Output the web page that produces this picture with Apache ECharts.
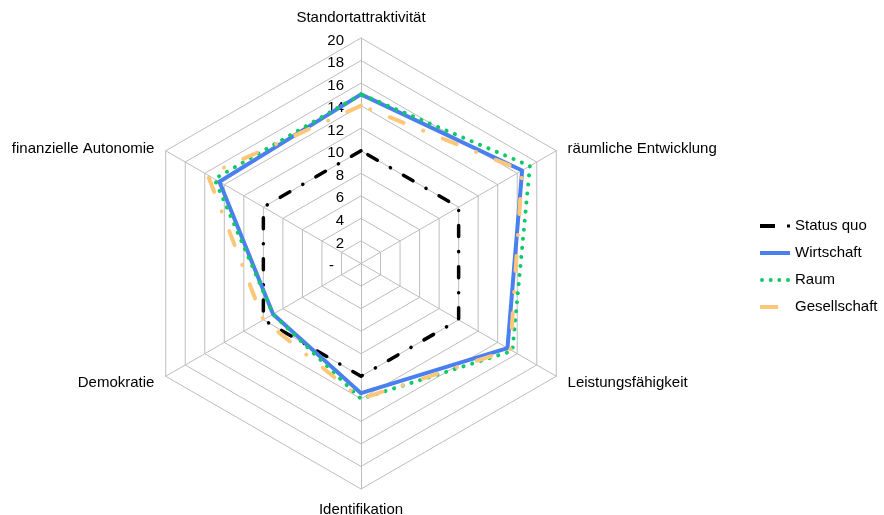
<!DOCTYPE html>
<html>
<head>
<meta charset="utf-8">
<script src="https://cdn.jsdelivr.net/npm/echarts@6/dist/echarts.min.js"></script>
<style>
  html, body { margin: 0; padding: 0; background: #fff; }
  #chart { width: 884px; height: 515px; }
</style>
</head>
<body>
<div id="chart"></div>
<script>
// Dimensions, in the counter-clockwise order the radar lays them out (top first)
const indicators = ['Standortattraktivität', 'finanzielle Autonomie', 'Demokratie', 'Identifikation', 'Leistungsfähigkeit', 'räumliche Entwicklung'];
const seriesNames = ['Status quo', 'Wirtschaft', 'Raum', 'Gesellschaft'];
const statusQuo   = [10, 10, 10, 10, 10, 10];
const wirtschaft  = [15, 14.5, 9, 11.5, 15, 16.5];
const raum        = [15, 15, 9, 12, 15.5, 17.3];
const gesellschaft = [14, 15.7, 10, 12, 15.3, 16.5];
const axisMax = 20;
const axisSplits = 10;

const FONT = '"Liberation Sans", Arial, sans-serif';
const colors = ['#000000', '#4a7ff0', '#0fc86a', '#fdc77a'];
const lineStyles = [
  { width: 3.5, type: [11, 15, 0.1, 15], cap: 'round' },
  { width: 4, type: 'solid', cap: 'round' },
  { width: 4, type: [0.1, 9], cap: 'round' },
  { width: 4, type: [15, 21, 0.1, 21], cap: 'round' }
];
const legendIcons = [
  'path://M0,0h15v4h-15z M27,0.5h3v3h-3z',
  'path://M0,0h30v4h-30z',
  'path://M0,2a2,2 0 1,0 4,0a2,2 0 1,0 -4,0z M8.7,2a2,2 0 1,0 4,0a2,2 0 1,0 -4,0z M17.3,2a2,2 0 1,0 4,0a2,2 0 1,0 -4,0z M26,2a2,2 0 1,0 4,0a2,2 0 1,0 -4,0z',
  'path://M0,0h18v4h-18z M30,0L30,4'
];
const values = [statusQuo, wirtschaft, raum, gesellschaft];

// the two upper diagonal names sit a little lower than the default placement
const loweredNames = ['finanzielle Autonomie', 'räumliche Entwicklung'];

const chart = echarts.init(document.getElementById('chart'), null, { renderer: 'canvas' });

chart.setOption({
  backgroundColor: '#ffffff',
  animation: false,
  legend: {
    orient: 'vertical',
    left: 760,
    top: 218.5,
    padding: 0,
    itemWidth: 30,
    itemHeight: 4,
    itemGap: 12,
    itemTextGap: 11,
    itemStyle: { borderWidth: 0 },
    textStyle: { color: '#000', fontSize: 15, fontFamily: FONT },
    data: seriesNames.map((n, i) => ({ name: n, icon: legendIcons[i], itemStyle: { color: colors[i] } }))
  },
  radar: {
    center: [361, 263.5],
    radius: 225.5,
    startAngle: 90,
    shape: 'polygon',
    splitNumber: axisSplits,
    nameGap: 13,
    axisName: {
      color: '#000',
      fontSize: 15,
      fontFamily: FONT,
      formatter: name => (loweredNames.indexOf(name) >= 0 ? '{low|' + name + '}' : name),
      rich: { low: { color: '#000', fontSize: 15, fontFamily: FONT, padding: [10, 0, 0, 0] } }
    },
    splitArea: { show: false },
    splitLine: { lineStyle: { color: '#bdbdbd', width: 1 } },
    axisLine: { lineStyle: { color: '#bdbdbd', width: 1 } },
    axisTick: { show: false },
    axisLabel: {
      show: false,
      color: '#000',
      fontSize: 15,
      fontFamily: FONT,
      margin: 17,
      align: 'right',
      padding: [5, 0, 0, 0],
      formatter: v => (v === 0 ? '{z|-}' : String(v)),
      rich: { z: { color: '#000', fontSize: 15, fontFamily: FONT, padding: [0, 10, 0, 0] } }
    },
    indicator: indicators.map((name, i) => (
      i === 0
        ? { name: name, min: 0, max: axisMax, axisLabel: { show: true } }
        : { name: name, min: 0, max: axisMax }
    ))
  },
  series: seriesNames.map((n, i) => ({
    type: 'radar',
    name: n,
    symbol: 'none',
    color: colors[i],
    lineStyle: Object.assign({ color: colors[i] }, lineStyles[i]),
    data: [{ name: n, value: values[i] }]
  }))
});
</script>
</body>
</html>
